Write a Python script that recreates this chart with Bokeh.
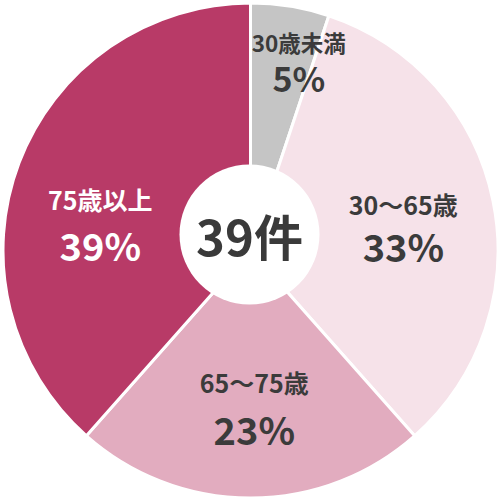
import math
from bokeh.plotting import figure
from bokeh.models import Range1d, ColumnDataSource
from bokeh.core.properties import value
from bokeh.embed import file_html
from bokeh.resources import INLINE

# ---- data ----
categories = ["30歳未満", "30〜65歳", "65〜75歳", "75歳以上"]
counts = [2, 13, 9, 15]
percent_labels = ["5%", "33%", "23%", "39%"]
total_label = "39件"

# ---- style / layout ----
colors = ["#c5c5c5", "#f6e2e9", "#e2acbf", "#b83a67"]
text_colors = ["#3b3b3b", "#3b3b3b", "#3b3b3b", "#ffffff"]
label_r = [197, 155, 155, 153]          # px from centre
label_deg = [14.2, 80.5, 178.6, 280.9]   # clockwise from top
label_gap = [17.5, 20.5, 23.5, 23.0]
name_size = [22.5, 25, 25, 25]
pct_size = [34, 38, 38, 38]
FONT = "Noto Sans CJK JP"
W, H = 500, 501
R = 247.5

total = sum(counts)
cum = 0
starts, ends = [], []
for c in counts:
    starts.append(math.pi / 2 - 2 * math.pi * cum / total)
    cum += c
    ends.append(math.pi / 2 - 2 * math.pi * cum / total)

p = figure(width=W, height=H, x_range=Range1d(-250, 250), y_range=Range1d(-251, 250),
           output_backend="svg", toolbar_location=None, min_border=0,
           x_axis_type=None, y_axis_type=None)
p.grid.visible = False
p.outline_line_color = None
p.background_fill_color = "white"
p.border_fill_color = "white"

src = ColumnDataSource(dict(start=starts, end=ends, color=colors))
p.wedge(x=0, y=0, radius=R, start_angle="start", end_angle="end", direction="clock",
        fill_color="color", line_color="white", line_width=3, source=src)

# centre circle
p.circle(x=-1, y=16, radius=70, fill_color="white", line_color=None)
p.text(x=[-1], y=[16], text=[total_label], text_font=value(FONT), text_font_style="bold",
       text_font_size="49px", text_color="#3a3a3a", text_align="center",
       text_baseline="middle")

for i in range(len(categories)):
    a = math.radians(label_deg[i])
    cx = label_r[i] * math.sin(a)
    cy = label_r[i] * math.cos(a)
    p.text(x=[cx], y=[cy + label_gap[i]], text=[categories[i]], text_font=value(FONT),
           text_font_style="bold", text_font_size=f"{name_size[i]}px",
           text_color=text_colors[i], text_align="center", text_baseline="middle")
    p.text(x=[cx], y=[cy - label_gap[i]], text=[percent_labels[i]], text_font=value(FONT),
           text_font_style="bold", text_font_size=f"{pct_size[i]}px",
           text_color=text_colors[i], text_align="center", text_baseline="middle")

open("out.html", "w").write(file_html(p, INLINE))
